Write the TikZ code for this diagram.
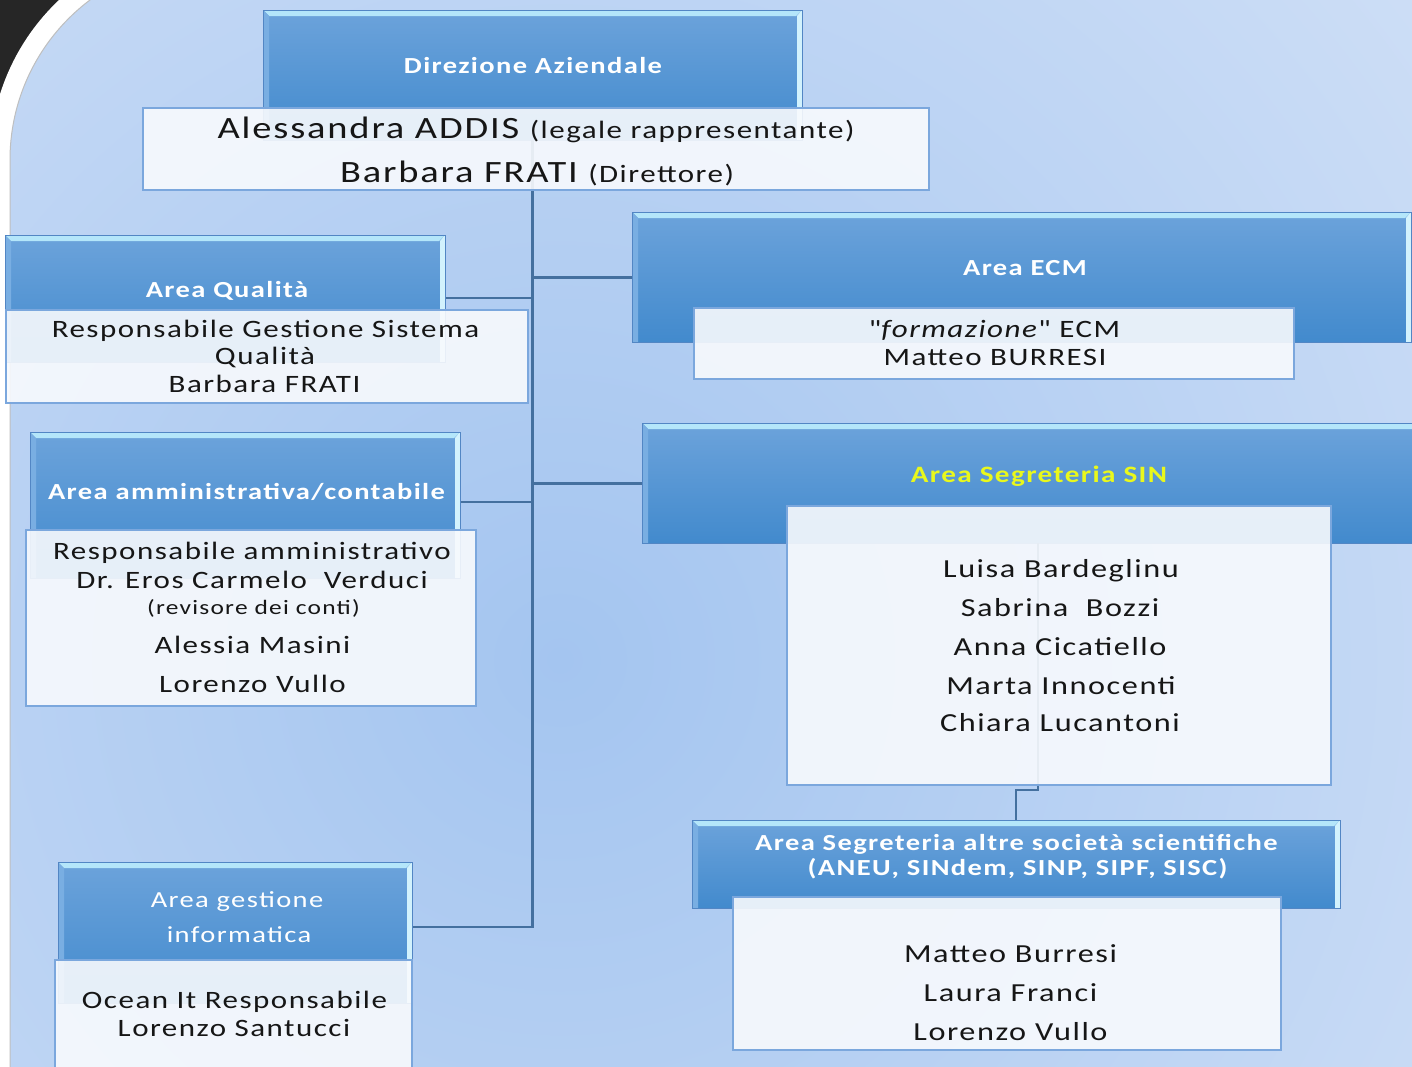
\documentclass[tikz,border=0pt]{standalone}
\usepackage{fontspec}
\setmainfont{Carlito}[FakeStretch=1.24, LetterSpace=6]
\definecolor{darkc}{HTML}{262626}
\definecolor{panelL}{HTML}{DCE7F8}
\definecolor{panelM}{HTML}{A4C5F0}
\definecolor{hdrT}{HTML}{6CA3DB}
\definecolor{hdrD}{HTML}{428ACD}
\definecolor{hdrB}{HTML}{5286C4}
\definecolor{hlT}{HTML}{B4E6FA}
\definecolor{hlR}{HTML}{D2F2FD}
\definecolor{hlL}{HTML}{79AEE2}
\definecolor{boxF}{HTML}{F8FAFD}
\definecolor{boxB}{HTML}{7BA7DD}
\definecolor{conn}{HTML}{44709F}
\definecolor{txt}{HTML}{161616}
\definecolor{ylw}{HTML}{E9F81C}
\newcommand{\myfs}[1]{\fontsize{#1}{#1}\selectfont}
\newcommand{\sq}{{\addfontfeatures{Ligatures=TeXOff}"}}
\begin{document}
\begin{tikzpicture}[x=1pt,y=-1pt,
 hdr/.style={draw=hdrB, line width=1pt, top color=hdrT, bottom color=hdrD,
   anchor=north west, inner sep=0pt, outer sep=0pt,
   path picture={
     \fill[hlT] (path picture bounding box.north west) -- (path picture bounding box.north east)
       -- ([xshift=-6pt,yshift=-6pt]path picture bounding box.north east)
       -- ([xshift=6pt,yshift=-6pt]path picture bounding box.north west) -- cycle;
     \fill[hlR] (path picture bounding box.north east) -- (path picture bounding box.south east)
       -- ([xshift=-5pt]path picture bounding box.south east)
       -- ([xshift=-5pt,yshift=-6pt]path picture bounding box.north east) -- cycle;
     \fill[hlL] (path picture bounding box.north west) -- ([xshift=6pt,yshift=-6pt]path picture bounding box.north west)
       -- ([xshift=6pt]path picture bounding box.south west) -- (path picture bounding box.south west) -- cycle;
   }},
 cbox/.style={draw=boxB, line width=1.5pt, fill=boxF, fill opacity=0.9,
   anchor=north west, inner sep=0pt, outer sep=0pt},
 ln/.style={inner sep=0pt, outer sep=0pt, anchor=base, text=txt},
 hd/.style={ln, text=white},
 cn/.style={draw=conn, line width=2.5pt}
]
\useasboundingbox (0,0) rectangle (1412,1066);
\clip (0,0) rectangle (1412,1066);
% background
\fill[white] (0,0) rectangle (1412,1066);
\fill[darkc] (0,0) rectangle (80,120);
\fill[white] (210,160) circle (220);
\begin{scope}
  \clip (10,1080) -- (10,160) arc[start angle=180,end angle=270,radius=200] -- (1420,-40) -- (1420,1080) -- cycle;
  \fill[panelL] (0,-50) rectangle (1420,1080);
  \shade[inner color=panelM, outer color=panelL] (560,660) circle (1500);
\end{scope}
\draw[gray!50, line width=1pt] (10,1080) -- (10,160) arc[start angle=180,end angle=270,radius=200];

% header boxes
\node[hdr, minimum width=539pt, minimum height=130pt] (dirH) at (263,10) {};
\node[hdr, minimum width=440pt, minimum height=127pt] (qualH) at (5,235) {};
\node[hdr, minimum width=779pt, minimum height=130pt] (ecmH) at (632,212) {};
\node[hdr, minimum width=430pt, minimum height=146pt] (ammH) at (30,432) {};
\node[hdr, minimum width=792pt, minimum height=120pt] (sinH) at (642,423) {};
\node[hdr, minimum width=648pt, minimum height=88pt] (altH) at (692,820) {};
\node[hdr, minimum width=354pt, minimum height=141pt] (infH) at (58,862) {};

% connectors
\draw[cn, line width=3pt] (dirH.south) |- (ecmH.west);
\draw[cn, line width=3pt] (dirH.south) |- (sinH.west);
\draw[cn] (dirH.south) |- ([yshift=-63pt]qualH.north east);
\draw[cn] (dirH.south) |- ([yshift=-70pt]ammH.north east);
\draw[cn] (dirH.south) |- ([yshift=-65pt]infH.north east);
\draw[cn, line width=2pt] (sinH.south) -- ([yshift=-5pt]sinH.south |- 0,785) -| (altH.north);

% redraw headers above connectors
\node[hdr, minimum width=539pt, minimum height=130pt] at (263,10) {};
\node[hdr, minimum width=440pt, minimum height=127pt] at (5,235) {};
\node[hdr, minimum width=779pt, minimum height=130pt] at (632,212) {};
\node[hdr, minimum width=430pt, minimum height=146pt] at (30,432) {};
\node[hdr, minimum width=792pt, minimum height=120pt] at (642,423) {};
\node[hdr, minimum width=648pt, minimum height=88pt] at (692,820) {};
\node[hdr, minimum width=354pt, minimum height=141pt] at (58,862) {};
\draw[cn] (dirH.south) -- ([yshift=-1pt]dirH.south |- 0,190);
\draw[cn, line width=2pt] (sinH.south) -- (sinH.south |- 0,785);

% content boxes
\node[cbox, minimum width=786pt, minimum height=82pt] (dirC) at (143,108) {};
\node[cbox, minimum width=522pt, minimum height=93pt] (qualC) at (6,310) {};
\node[cbox, minimum width=600pt, minimum height=71pt] (ecmC) at (694,308) {};
\node[cbox, minimum width=450pt, minimum height=176pt] (ammC) at (26,530) {};
\node[cbox, minimum width=544pt, minimum height=279pt] (sinC) at (787,506) {};
\node[cbox, minimum width=548pt, minimum height=153pt] (altC) at (733,897) {};
\node[cbox, minimum width=357pt, minimum height=125pt] (infC) at (55,960) {};

% header texts (anchor = baseline)
\node[hd, font=\bfseries\myfs{23}] (dirT) at (533,73.4) {Direzione Aziendale};
\node[hd, font=\bfseries\myfs{23}] (qualT) at (227,297.4) {Area Qualità};
\node[hd, font=\bfseries\myfs{23}] (ecmT) at (1025,275.4) {Area ECM};
\node[hd, font=\bfseries\myfs{23}] (ammT) at (246.5,499.4) {Area amministrativa/contabile};
\node[hd, font=\bfseries\myfs{23.5}, text=ylw] (sinT) at (1039,482.4) {Area Segreteria SIN};
\node[hd, font=\bfseries\myfs{23}] (altT1) at (1016.5,850.4) {Area Segreteria altre società scientifiche};
\node[hd, font=\bfseries\myfs{23}] (altT2) at (1017.5,875.4) {(ANEU, SINdem, SINP, SIPF, SISC)};
\node[hd, font=\myfs{23}] (infT1) at (237,907.4) {Area gestione};
\node[hd, font=\myfs{23}] (infT2) at (239,942.4) {informatica};

% content texts (anchor = baseline)
\node[ln, font=\myfs{31}] (dirL1) at (536,138) {Alessandra ADDIS {\myfs{25}(legale rappresentante)}};
\node[ln, font=\myfs{31}] (dirL2) at (537,182) {Barbara FRATI {\myfs{25}(Direttore)}};

\node[ln, font=\myfs{25}] (qualL1) at (265.5,337) {Responsabile Gestione Sistema};
\node[ln, font=\myfs{25}] (qualL2) at (265,364) {Qualità};
\node[ln, font=\myfs{25}] (qualL3) at (264.5,392) {Barbara FRATI};

\node[ln, font=\myfs{25}] (ecmL1) at (994.5,337) {\sq\textit{formazione}\sq{} ECM};
\node[ln, font=\myfs{25}] (ecmL2) at (995,365) {Matteo BURRESI};

\node[ln, font=\myfs{25}] (ammL1) at (252,559) {Responsabile amministrativo};
\node[ln, font=\myfs{25}] (ammL2) at (252,588) {Dr. Eros Carmelo \ Verduci};
\node[ln, font=\myfs{20.5}] (ammL3) at (253.5,614.5) {(revisore dei conti)};
\node[ln, font=\myfs{25}] (ammL4) at (252.5,653) {Alessia Masini};
\node[ln, font=\myfs{25}] (ammL5) at (252.5,692) {Lorenzo Vullo};

\node[ln, font=\myfs{26}] (sinL1) at (1061,577.3) {Luisa Bardeglinu};
\node[ln, font=\myfs{26}] (sinL2) at (1060,616.3) {Sabrina \ Bozzi};
\node[ln, font=\myfs{26}] (sinL3) at (1060,655.3) {Anna Cicatiello};
\node[ln, font=\myfs{26}] (sinL4) at (1061,694.3) {Marta Innocenti};
\node[ln, font=\myfs{26}] (sinL5) at (1060,731.3) {Chiara Lucantoni};

\node[ln, font=\myfs{26}] (altL1) at (1010.5,962.3) {Matteo Burresi};
\node[ln, font=\myfs{26}] (altL2) at (1010.5,1001.3) {Laura Franci};
\node[ln, font=\myfs{26}] (altL3) at (1010.5,1040.3) {Lorenzo Vullo};

\node[ln, font=\myfs{25}] (infL1) at (234.5,1008) {Ocean It Responsabile};
\node[ln, font=\myfs{25}] (infL2) at (234,1036) {Lorenzo Santucci};
\end{tikzpicture}
\end{document}
